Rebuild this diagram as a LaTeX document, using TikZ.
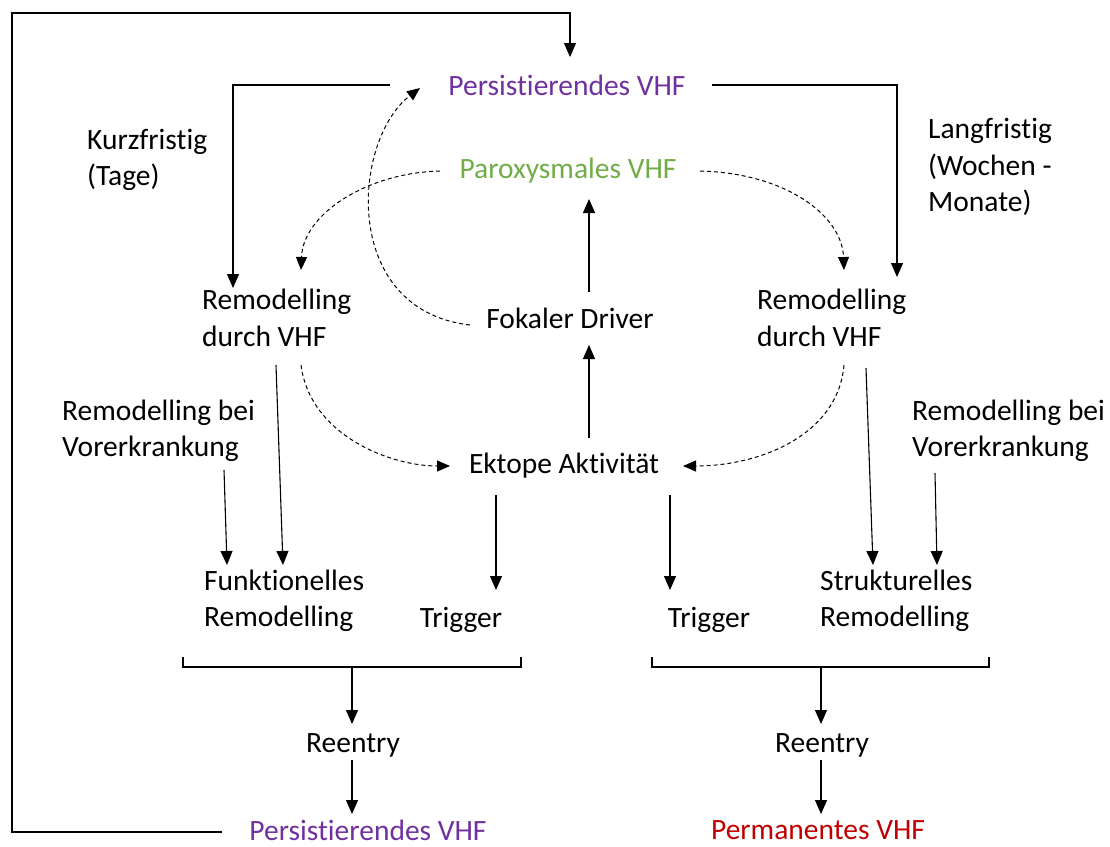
\documentclass[tikz,border=0pt]{standalone}
\usepackage{fontspec}
\setmainfont{Carlito}[Ligatures={NoCommon}]
\usetikzlibrary{arrows.meta}
\definecolor{vpurple}{HTML}{7030A0}
\definecolor{vgreen}{HTML}{70AD47}
\definecolor{vred}{HTML}{C00000}
\tikzset{
  txt/.style={inner sep=0pt, font=\fontsize{29.5}{36.5}\selectfont, align=left},
  arr/.style={-{Triangle[length=14pt,width=12pt]}, line width=1.1pt},
  darr/.style={-{Triangle[length=13pt,width=11pt]}, line width=1pt, dash pattern=on 4pt off 3pt},
  ln/.style={line width=1.1pt},
}
\begin{document}
\begin{tikzpicture}[x=1pt,y=-1pt]
\useasboundingbox (0,0) rectangle (1110,846);
% texts
\node[txt, text=vpurple] (ptop) at (567,85) {Persistierendes VHF};
\node[txt, text=vgreen] (parox) at (568,171) {Paroxysmales VHF};
\node[txt, anchor=west] (kurz) at (87,160) {Kurzfristig\\(Tage)};
\node[txt, anchor=west] (lang) at (928,167) {Langfristig\\(Wochen -\\Monate)};
\node[txt, anchor=west] (reml) at (202,318) {Remodelling\\durch VHF};
\node[txt] (fok) at (570,318) {Fokaler Driver};
\node[txt, anchor=west] (remr) at (757,318) {Remodelling\\durch VHF};
\node[txt, anchor=west] (vorl) at (62,431) {Remodelling bei\\Vorerkrankung};
\node[txt, anchor=west] (vorr) at (912,431) {Remodelling bei\\Vorerkrankung};
\node[txt] (ekt) at (564,466) {Ektope Aktivität};
\node[txt, anchor=west] (funk) at (204,601) {Funktionelles\\Remodelling};
\node[txt] (trl) at (461,620) {Trigger};
\node[txt] (trr) at (709,620) {Trigger};
\node[txt, anchor=west] (struk) at (820,601) {Strukturelles\\Remodelling};
\node[txt] (reel) at (353,745) {Reentry};
\node[txt] (reer) at (822,745) {Reentry};
\node[txt, text=vpurple] (pbot) at (368,830) {Persistierendes VHF};
\node[txt, text=vred] (perm) at (818,830) {Permanentes VHF};
% coordinates
\coordinate (c1) at (12,13);
\coordinate (c2) at (570,13);
\coordinate (c3) at (570,57);
\coordinate (c4) at (12,832);
\coordinate (c5) at (222,832);
\coordinate (l1) at (390,85);
\coordinate (l2) at (233,85);
\coordinate (l3) at (233,288);
\coordinate (r1) at (712,85);
\coordinate (r2) at (897,85);
\coordinate (r3) at (897,277);
% big loop
\draw[arr] (c5) -- (c4) -- (c1) -- (c2) -- (c3);
\draw[arr] (l1) -- (l2) -- (l3);
\draw[arr] (r1) -- (r2) -- (r3);
% dashed
\draw[darr] (440,171) .. controls (365,173) and (303,215) .. (301,270);
\draw[darr] (700,171) .. controls (785,173) and (842,215) .. (844,270);
\draw[darr] (470,325) .. controls (340,310) and (352,140) .. (420,88);
\draw[darr] (301,365) .. controls (310,435) and (390,466) .. (450,466);
\draw[darr] (844,365) .. controls (838,435) and (760,466) .. (683,466);
% solid verticals
\draw[arr] (589,292) -- (589,199);
\draw[arr] (589,438) -- (589,345);
\draw[arr] (276,365) -- (283,565);
\draw[arr] (224,470) -- (227,565);
\draw[arr] (496,495) -- (496,590);
\draw[arr] (670,495) -- (670,590);
\draw[arr] (866,368) -- (873,565);
\draw[arr] (935,473) -- (937,565);
% brackets
\draw[ln] (183,657) -- (183,667) -- (521,667) -- (521,657);
\draw[ln] (652,657) -- (652,667) -- (989,667) -- (989,657);
\draw[arr] (352,667) -- (352,724);
\draw[arr] (352,760) -- (352,814);
\draw[arr] (821,667) -- (821,724);
\draw[arr] (821,760) -- (821,814);
\end{tikzpicture}
\end{document}
